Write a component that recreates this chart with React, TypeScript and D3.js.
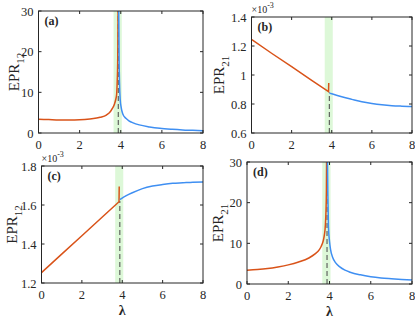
import React from 'react';
import * as d3 from 'd3';

// lambda axis
const lambdaTicks = [0, 2, 4, 6, 8];
const bandRange = [3.65, 4.05];
const lambdaC = 3.88;

// (a) EPR12
const aRed: [number, number][] = [
  [0, 3.4], [0.5, 3.3], [1, 3.2], [1.5, 3.2], [2, 3.25], [2.5, 3.45], [3, 3.85], [3.3, 4.4],
  [3.5, 5.3], [3.6, 6.1], [3.7, 7.2], [3.76, 8.3], [3.8, 9.5], [3.83, 13], [3.85, 17], [3.86, 22], [3.87, 31],
];
const aBlue: [number, number][] = [
  [3.9, 31], [3.92, 18], [3.94, 12.5], [3.97, 8.5], [4.02, 6.3], [4.1, 4.7], [4.25, 3.6], [4.4, 3.0],
  [4.6, 2.5], [4.9, 2.0], [5.4, 1.5], [5.9, 1.15], [6.5, 0.9], [7, 0.75], [7.5, 0.65], [8, 0.55],
];
const aTicks = [0, 10, 20, 30];

// (b) EPR21 (x1e-3)
const bRed: [number, number][] = [
  [0, 1.245], [1, 1.15], [2, 1.058], [3, 0.963], [3.84, 0.886], [3.85, 0.945],
];
const bBlue: [number, number][] = [
  [3.88, 0.875], [4.2, 0.862], [4.5, 0.85], [5, 0.832], [5.5, 0.815], [6, 0.803], [6.5, 0.794],
  [7, 0.788], [7.5, 0.785], [8, 0.783],
];
const bTicks = [0.6, 0.8, 1, 1.2, 1.4];

// (c) EPR12 (x1e-3)
const cRed: [number, number][] = [
  [0, 1.253], [1, 1.348], [2, 1.442], [3, 1.537], [3.84, 1.617], [3.85, 1.695],
];
const cBlue: [number, number][] = [
  [3.88, 1.628], [4.2, 1.648], [4.5, 1.663], [5, 1.684], [5.5, 1.697], [6, 1.705], [6.5, 1.711],
  [7, 1.714], [7.5, 1.717], [8, 1.718],
];
const cTicks = [1.2, 1.4, 1.6, 1.8];

// (d) EPR21
const dRed: [number, number][] = [
  [0, 3.4], [0.5, 3.55], [1, 3.8], [1.5, 4.2], [2, 4.7], [2.5, 5.4], [3, 6.4], [3.3, 7.4], [3.5, 8.4],
  [3.6, 9.3], [3.7, 10.7], [3.75, 12], [3.8, 14.5], [3.83, 18], [3.85, 23], [3.86, 31],
];
const dBlue: [number, number][] = [
  [3.9, 31], [3.92, 22], [3.95, 14], [4.0, 10.5], [4.05, 8.5], [4.15, 6.6], [4.3, 5.2], [4.5, 4.2],
  [4.75, 3.4], [5, 2.9], [5.5, 2.25], [6, 1.8], [6.5, 1.5], [7, 1.3], [7.5, 1.12], [8, 0.98],
];
const dTicks = [0, 10, 20, 30];

const RED = '#d95319';
const BLUE = '#3f8ff2';
const AXIS = '#262626';
const FONT = 'Liberation Serif';

type PanelProps = {
  id: string;
  box: [number, number, number, number]; // left, right, top, bottom
  yTicks: number[];
  red: [number, number][];
  blue: [number, number][];
  tag: string;
  sub: string;
  labelX: number;
  smooth: boolean;
  exp?: boolean;
  xlabel?: boolean;
  dashTo?: number;
};

const Panel = ({ id, box, yTicks, red, blue, tag, sub, labelX, smooth, exp, xlabel, dashTo }: PanelProps) => {
  const [l, r, t, b] = box;
  const x = d3.scaleLinear().domain([0, 8]).range([l, r]);
  const y = d3.scaleLinear().domain([yTicks[0], yTicks[yTicks.length - 1]]).range([b, t]);
  const redLine = d3.line<[number, number]>().x((d) => x(d[0])).y((d) => y(d[1]))
    .curve(smooth ? d3.curveMonotoneX : d3.curveLinear);
  const blueLine = d3.line<[number, number]>().x((d) => x(d[0])).y((d) => y(d[1])).curve(d3.curveMonotoneX);
  const tk = 3;
  const dashTop = dashTo === undefined ? t : y(dashTo);
  return (
    <g>
      <defs>
        <clipPath id={'clip-' + id}>
          <rect x={l} y={t} width={r - l} height={b - t} />
        </clipPath>
      </defs>
      <rect x={x(bandRange[0])} y={t} width={x(bandRange[1]) - x(bandRange[0])} height={b - t} fill="#ddf8d8" />
      <line x1={x(lambdaC)} x2={x(lambdaC)} y1={b} y2={dashTop} stroke="#555" strokeWidth={1.1} strokeDasharray="5,3" />
      <g clipPath={`url(#clip-${id})`}>
        <path d={redLine(red) || ''} fill="none" stroke={RED} strokeWidth={1.5} />
        <path d={blueLine(blue) || ''} fill="none" stroke={BLUE} strokeWidth={1.5} />
      </g>
      <rect x={l} y={t} width={r - l} height={b - t} fill="none" stroke={AXIS} strokeWidth={1} />
      {lambdaTicks.map((v) => (
        <g key={'x' + v}>
          <line x1={x(v)} x2={x(v)} y1={b} y2={b - tk} stroke={AXIS} />
          <line x1={x(v)} x2={x(v)} y1={t} y2={t + tk} stroke={AXIS} />
          <text x={x(v)} y={b + 16} textAnchor="middle" fontSize={12.5} fontFamily={FONT} fill={AXIS}>{v}</text>
        </g>
      ))}
      {yTicks.map((v) => (
        <g key={'y' + v}>
          <line x1={l} x2={l + tk} y1={y(v)} y2={y(v)} stroke={AXIS} />
          <line x1={r} x2={r - tk} y1={y(v)} y2={y(v)} stroke={AXIS} />
          <text x={l - 5} y={y(v) + 4.5} textAnchor="end" fontSize={12.5} fontFamily={FONT} fill={AXIS}>{v}</text>
        </g>
      ))}
      <text x={l + 6} y={t + 14} fontSize={12} fontWeight="bold" fontFamily={FONT} fill={AXIS}>{tag}</text>
      <text transform={`translate(${labelX},${(t + b) / 2}) rotate(-90)`} textAnchor="middle" fontSize={15} fontFamily={FONT} fill={AXIS}>
        EPR<tspan fontSize={11} dy={4.5}>{sub}</tspan>
      </text>
      {exp && (
        <text x={l} y={t - 4} fontSize={10} fontFamily={FONT} fill={AXIS}>
          ×10<tspan fontSize={8} dy={-5}>-3</tspan>
        </text>
      )}
      {xlabel && (
        <text x={(l + r) / 2} y={b + 32} textAnchor="middle" fontSize={14} fontWeight="bold" fontFamily={FONT} fill={AXIS}>λ</text>
      )}
    </g>
  );
};

export default function App() {
  return (
    <svg width={415} height={320} style={{ position: 'absolute', left: 0, top: 0, background: '#fff' }}>
      <Panel id="a" box={[38.5, 203, 11, 133]} yTicks={aTicks} red={aRed} blue={aBlue} tag="(a)" sub="12" labelX={19} smooth />
      <Panel id="b" box={[251.5, 412, 17, 133]} yTicks={bTicks} red={bRed} blue={bBlue} tag="(b)" sub="21" labelX={224} smooth={false} exp dashTo={0.88} />
      <Panel id="c" box={[41.5, 203, 166, 283]} yTicks={cTicks} red={cRed} blue={cBlue} tag="(c)" sub="12" labelX={17} smooth={false} exp xlabel dashTo={1.62} />
      <Panel id="d" box={[247, 412, 162, 284]} yTicks={dTicks} red={dRed} blue={dBlue} tag="(d)" sub="21" labelX={223} smooth xlabel />
    </svg>
  );
}
